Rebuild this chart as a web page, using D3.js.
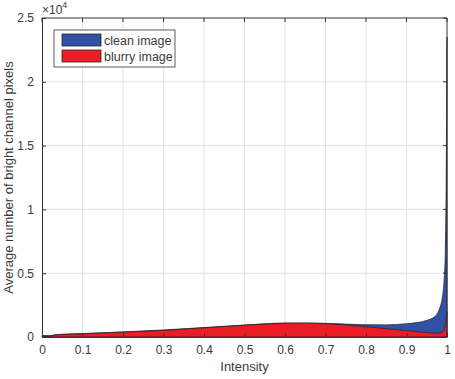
<!DOCTYPE html>
<html>
<head>
<meta charset="utf-8">
<script src="https://cdn.jsdelivr.net/npm/d3@7"></script>
<style>
  body { margin: 0; background: #fff; }
  text { font-family: "Liberation Sans", Arial, sans-serif; fill: #3a3a3a; }
</style>
</head>
<body>
<div id="chart"></div>
<script>
// intensity samples and the average pixel counts
const cleanX = [0, 0.02, 0.03, 0.05, 0.1, 0.2, 0.3, 0.4, 0.5, 0.6, 0.7, 0.75, 0.8, 0.85, 0.9, 0.93, 0.95, 0.97, 0.98, 0.99, 0.993, 0.996, 0.998, 1.0]
const cleanY = [120, 110, 160, 210, 270, 400, 550, 740, 940, 1090, 1070, 1010, 960, 950, 1040, 1150, 1300, 1600, 2100, 3400, 4500, 7000, 12000, 23500]

const blurX = [0, 0.02, 0.03, 0.05, 0.1, 0.2, 0.3, 0.4, 0.5, 0.6, 0.65, 0.7, 0.8, 0.9, 0.95, 0.98, 0.99, 0.995, 1.0]
const blurY = [0, 40, 150, 200, 250, 380, 520, 720, 920, 1080, 1100, 1050, 800, 500, 350, 300, 400, 800, 2000]

const xTicks = [0, 0.1, 0.2, 0.3, 0.4, 0.5, 0.6, 0.7, 0.8, 0.9, 1]
const yTicks = [0, 5000, 10000, 15000, 20000, 25000]
const legendNames = ["clean image", "blurry image"]
const colors = ["#3150a6", "#ec1c24"]

const W = 455, H = 379
const margin = { top: 18, right: 8, bottom: 42, left: 42 }
const width = W - margin.left - margin.right,
      height = H - margin.top - margin.bottom

const svg = d3.select("#chart").append("svg")
    .attr("width", W)
    .attr("height", H)

const g = svg.append("g")
    .attr("transform", `translate(${margin.left},${margin.top})`)

const x = d3.scaleLinear().domain([0, 1]).range([0, width])
const y = d3.scaleLinear().domain([0, 25000]).range([height, 0])

// grid
g.selectAll("line.gx").data(xTicks.slice(1, -1)).enter().append("line")
    .attr("x1", d => x(d)).attr("x2", d => x(d))
    .attr("y1", 0).attr("y2", height)
    .attr("stroke", "#e3e3e3")
g.selectAll("line.gy").data(yTicks.slice(1, -1)).enter().append("line")
    .attr("y1", d => y(d)).attr("y2", d => y(d))
    .attr("x1", 0).attr("x2", width)
    .attr("stroke", "#e3e3e3")

const area = d3.area()
    .x(d => x(d[0]))
    .y0(y(0))
    .y1(d => y(d[1]))
    .curve(d3.curveMonotoneX)

const series = [d3.zip(cleanX, cleanY), d3.zip(blurX, blurY)]

g.selectAll("path.area").data(series).enter().append("path")
    .attr("d", area)
    .attr("fill", (d, i) => colors[i])
    .attr("stroke", "#2a2a2a")
    .attr("stroke-width", 0.8)

// axes, MATLAB style: ticks inside, box around
const xAxis = d3.axisBottom(x).tickValues(xTicks).tickSizeInner(-4).tickSizeOuter(0).tickPadding(8)
    .tickFormat(d => d3.format("~g")(d))
const yAxis = d3.axisLeft(y).tickValues(yTicks).tickSizeInner(-4).tickSizeOuter(0).tickPadding(8)
    .tickFormat(d => d3.format("~g")(d / 10000))

const gx = g.append("g").attr("transform", `translate(0,${height})`).call(xAxis)
const gy = g.append("g").call(yAxis)
;[gx, gy].forEach(a => {
    a.select(".domain").attr("stroke", "#333")
    a.selectAll(".tick line").attr("stroke", "#333")
    a.selectAll(".tick text").attr("font-size", 12).attr("fill", "#3a3a3a")
})

// top and right ticks + box
g.append("line").attr("x1", 0).attr("x2", width).attr("y1", 0).attr("y2", 0).attr("stroke", "#333")
g.append("line").attr("x1", width).attr("x2", width).attr("y1", 0).attr("y2", height).attr("stroke", "#333")
g.selectAll("line.tt").data(xTicks).enter().append("line")
    .attr("x1", d => x(d)).attr("x2", d => x(d)).attr("y1", 0).attr("y2", 4).attr("stroke", "#333")
g.selectAll("line.rt").data(yTicks).enter().append("line")
    .attr("y1", d => y(d)).attr("y2", d => y(d)).attr("x1", width).attr("x2", width - 4).attr("stroke", "#333")

// exponent label
const expo = g.append("text").attr("x", 0).attr("y", -4).attr("font-size", 12)
expo.append("tspan").text("\u00d710")
expo.append("tspan").attr("font-size", 9).attr("dy", -6).text("4")

// axis titles
g.append("text")
    .attr("x", width / 2).attr("y", height + 34)
    .attr("text-anchor", "middle").attr("font-size", 13)
    .text("Intensity")
g.append("text")
    .attr("transform", `translate(${-29},${height / 2}) rotate(-90)`)
    .attr("text-anchor", "middle").attr("font-size", 13)
    .text("Average number of bright channel pixels")

// legend
const leg = g.append("g").attr("transform", "translate(12,12)")
leg.append("rect").attr("width", 121).attr("height", 37)
    .attr("fill", "#fff").attr("stroke", "#333").attr("stroke-width", 0.8)
legendNames.forEach((name, i) => {
    leg.append("rect").attr("x", 8).attr("y", 4 + i * 16).attr("width", 39).attr("height", 12)
        .attr("fill", colors[i]).attr("stroke", "#2a2a2a").attr("stroke-width", 0.8)
    leg.append("text").attr("x", 50).attr("y", 14.5 + i * 16).attr("font-size", 12.5).text(name)
})
</script>
</body>
</html>
